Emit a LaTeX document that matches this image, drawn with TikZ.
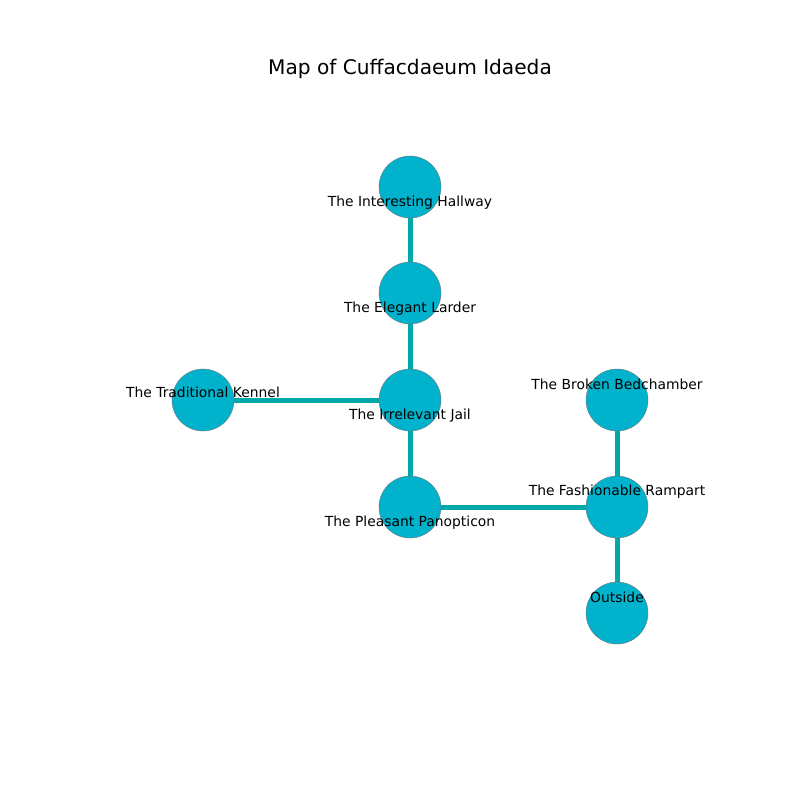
\documentclass[tikz,border=0pt]{standalone}
\usepackage{fontspec}
\setmainfont{DejaVu Sans}
\definecolor{nodefill}{RGB}{0,178,204}
\definecolor{edgecol}{RGB}{0,168,168}
\begin{document}
\begin{tikzpicture}[x=0.75pt,y=-0.75pt,
  room/.style={circle,fill=nodefill,draw=black!55,line width=0.3pt,minimum size=46.5pt,inner sep=0pt},
  link/.style={edgecol,line width=3.75pt},
  lbl/.style={font=\fontsize{10.4}{12}\selectfont,inner sep=0pt,anchor=center}]
\useasboundingbox (0,0) rectangle (800,800);
\node[font=\fontsize{15.1}{18}\selectfont] (title) at (410,69) {Map of Cuffacdaeum Idaeda};
\coordinate (hall) at (410,187);
\coordinate (lard) at (410,293);
\coordinate (jail) at (410,400);
\coordinate (pan) at (410,507);
\coordinate (ken) at (203,400);
\coordinate (bed) at (617,400);
\coordinate (ram) at (617,507);
\coordinate (out) at (617,613);
\draw[link] (hall) -- (lard);
\draw[link] (lard) -- (jail);
\draw[link] (jail) -- (ken);
\draw[link] (jail) -- (pan);
\draw[link] (pan) -- (ram);
\draw[link] (ram) -- (bed);
\draw[link] (ram) -- (out);
\node[room] (nhall) at (hall) {};
\node[room] (nlard) at (lard) {};
\node[room] (njail) at (jail) {};
\node[room] (npan) at (pan) {};
\node[room] (nken) at (ken) {};
\node[room] (nbed) at (bed) {};
\node[room] (nram) at (ram) {};
\node[room] (nout) at (out) {};
\node[lbl] (lhall) at (410,203) {The Interesting Hallway};
\node[lbl] (llard) at (410,309) {The Elegant Larder};
\node[lbl] (ljail) at (410,416) {The Irrelevant Jail};
\node[lbl] (lpan) at (410,523) {The Pleasant Panopticon};
\node[lbl] (lken) at (203,392) {The Traditional Kennel};
\node[lbl] (lbed) at (617,384) {The Broken Bedchamber};
\node[lbl] (lram) at (617,492) {The Fashionable Rampart};
\node[lbl] (lout) at (617,597) {Outside};
\end{tikzpicture}
\end{document}
